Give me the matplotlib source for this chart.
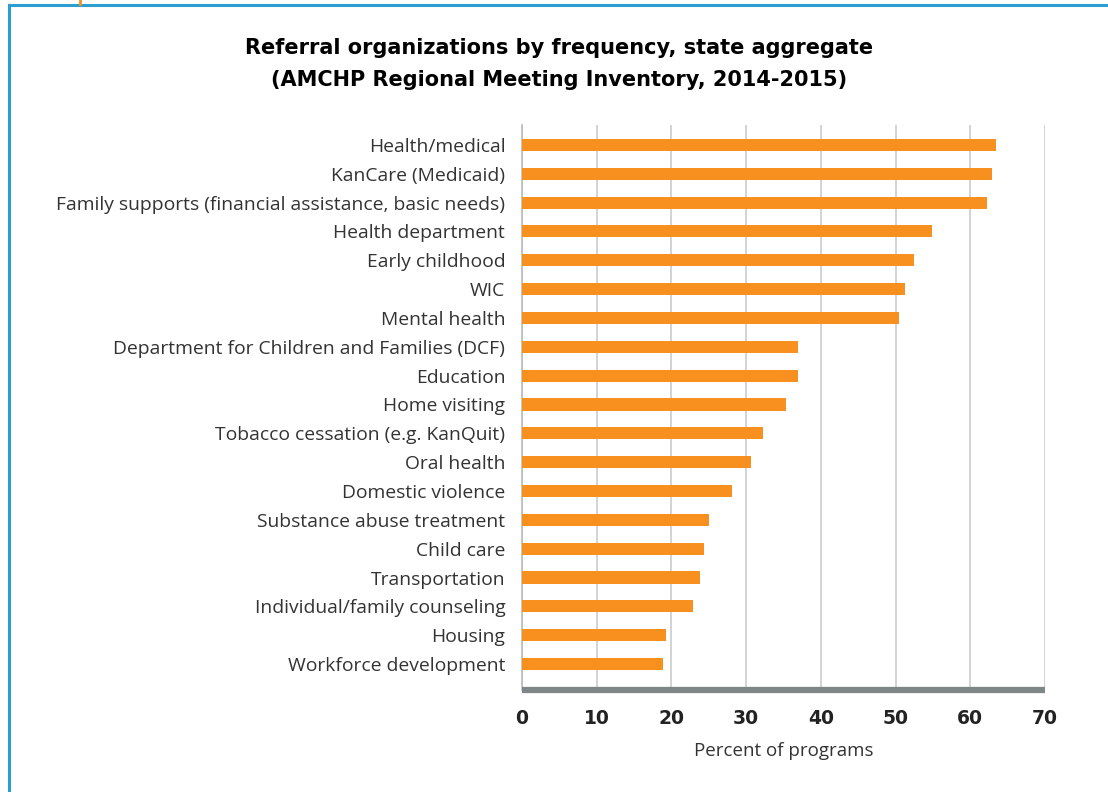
import matplotlib
matplotlib.use("Agg")
import matplotlib.pyplot as plt
from matplotlib.lines import Line2D

categories = [
    "Health/medical",
    "KanCare (Medicaid)",
    "Family supports (financial assistance, basic needs)",
    "Health department",
    "Early childhood",
    "WIC",
    "Mental health",
    "Department for Children and Families (DCF)",
    "Education",
    "Home visiting",
    "Tobacco cessation (e.g. KanQuit)",
    "Oral health",
    "Domestic violence",
    "Substance abuse treatment",
    "Child care",
    "Transportation",
    "Individual/family counseling",
    "Housing",
    "Workforce development",
]
percent = [63.4, 62.9, 62.3, 54.9, 52.4, 51.3, 50.5, 36.9, 36.9, 35.4,
           32.3, 30.7, 28.1, 25.0, 24.4, 23.8, 22.9, 19.3, 18.9]
x_ticks = [0, 10, 20, 30, 40, 50, 60, 70]

title = ("Referral organizations by frequency, state aggregate\n"
         "(AMCHP Regional Meeting Inventory, 2014-2015)")
x_label = "Percent of programs"

BAR = "#F7901E"
TEXT = "#333333"
FRAME = "#2A9FD0"

plt.rcParams["font.family"] = ["Open Sans", "DejaVu Sans"]

fig = plt.figure(figsize=(11.08, 7.92), dpi=100)
fig.patch.set_facecolor("white")

# outer frame lines (left and top) plus the small orange tab
fig.add_artist(Line2D([9 / 1108, 9 / 1108], [0, 1 - 5 / 792],
                      transform=fig.transFigure, color=FRAME, lw=2.2))
fig.add_artist(Line2D([9 / 1108, 1], [1 - 5 / 792, 1 - 5 / 792],
                      transform=fig.transFigure, color=FRAME, lw=2.2))
fig.add_artist(Line2D([80 / 1108, 80 / 1108], [1 - 4 / 792, 1],
                      transform=fig.transFigure, color=BAR, lw=2))

ax = fig.add_axes([522 / 1108, 1 - 690 / 792, 523 / 1108, 565 / 792])

ypos = list(range(len(categories)))
ax.barh(ypos, percent, height=0.42, color=BAR, zorder=3)

ax.set_xlim(0, 70)
ax.set_ylim(18.9, -0.69)
ax.set_xticks(x_ticks)
ax.set_xticklabels([str(t) for t in x_ticks], fontsize=13.5,
                   fontweight="bold", color="#222222",
                   family=["DejaVu Sans"])
ax.set_yticks(ypos)
ax.set_yticklabels(categories, fontsize=13.9, color=TEXT)
ax.tick_params(axis="both", length=0)
ax.tick_params(axis="y", pad=12)
ax.tick_params(axis="x", pad=14)

ax.grid(axis="x", color="#CCCCCC", lw=1.2, zorder=0)
ax.grid(axis="y", visible=False)

for side in ("top", "right"):
    ax.spines[side].set_visible(False)
ax.spines["left"].set_color("#BBBBBB")
ax.spines["left"].set_linewidth(1.2)
ax.spines["bottom"].set_color("#7F8687")
ax.spines["bottom"].set_linewidth(4.5)
ax.spines["bottom"].set_capstyle("butt")

ax.set_xlabel(x_label, fontsize=13.5, color=TEXT, labelpad=10)

fig.text(559 / 1108, 1 - 64 / 792, title, ha="center", va="center",
         fontsize=15, fontweight="bold", color="black", linespacing=1.8,
         family=["DejaVu Sans"])

fig.savefig("out.png", dpi=100, facecolor="white")
